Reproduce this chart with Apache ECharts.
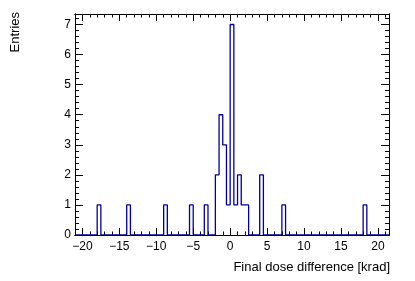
<!DOCTYPE html>
<html><head><meta charset="utf-8">
<script src="https://cdn.jsdelivr.net/npm/echarts@6/dist/echarts.min.js"></script>
<style>html,body{margin:0;padding:0;background:#fff}#c{width:415px;height:281px}</style>
</head><body><div id="c"></div>
<script>
// Histogram: bin width 0.5, range [-21, 21.5]
var xMin = -21, xMax = 21.5, binWidth = 0.5;
var yMin = 0, yMax = 7.35;
// lower edges of non-empty bins and their entries
var binLowEdges = [-18, -14, -9, -5.5, -3.5, -2, -1.5, -1, -0.5, 0, 0.5, 1, 1.5, 2, 4, 7, 18];
var binCounts   = [1,   1,   1,  1,    1,    2,  4,    3,  1,    7, 1,   2, 1,   1, 2, 1, 1];
var xTickLabels = [-20, -15, -10, -5, 0, 5, 10, 15, 20];
var yTickLabels = [0, 1, 2, 3, 4, 5, 6, 7];
var xTitle = 'Final dose difference [krad]';
var yTitle = 'Entries';

var nBins = Math.round((xMax - xMin) / binWidth);
var counts = [];
for (var i = 0; i < nBins; i++) counts.push(0);
binLowEdges.forEach(function (e, k) {
  counts[Math.round((e - xMin) / binWidth)] = binCounts[k];
});
var stepPts = [];
for (var i = 0; i < nBins; i++) {
  var lo = xMin + i * binWidth, hi = lo + binWidth;
  stepPts.push([lo, counts[i]]);
  stepPts.push([hi, counts[i]]);
}
var xMinor = [], yMinor = [];
for (var v = Math.ceil(xMin); v <= xMax; v++) xMinor.push(v);
for (var j = 0; j <= Math.floor(yMax / 0.2 + 1e-9); j++) yMinor.push(+(j * 0.2).toFixed(2));

var font = 'Liberation Sans, Arial, Helvetica, sans-serif';
function xAx(pos, ticks, len, labels) {
  return {
    type: 'value', position: pos, min: xMin, max: xMax,
    axisLine: { show: true, onZero: false, lineStyle: { color: '#000', width: 1 } },
    axisTick: { show: true, inside: true, length: len, customValues: ticks, lineStyle: { color: '#000', width: 1 } },
    axisLabel: labels ? { show: true, customValues: ticks, margin: 6, color: '#000', fontSize: 12, fontFamily: font,
      formatter: function (v) { return v < 0 ? '\u2212' + (-v) : '' + v; } } : { show: false },
    splitLine: { show: false }
  };
}
function yAx(pos, ticks, len, labels) {
  return {
    type: 'value', position: pos, min: yMin, max: yMax,
    axisLine: { show: true, onZero: false, lineStyle: { color: '#000', width: 1 } },
    axisTick: { show: true, inside: true, length: len, customValues: ticks, lineStyle: { color: '#000', width: 1 } },
    axisLabel: labels ? { show: true, customValues: ticks, margin: 4, color: '#000', fontSize: 12, fontFamily: font } : { show: false },
    splitLine: { show: false }
  };
}
var chart = echarts.init(document.getElementById('c'), null, { renderer: 'canvas' });
chart.setOption({
  animation: false,
  backgroundColor: '#fff',
  grid: { left: 75, right: 26, top: 14, bottom: 46, show: false },
  xAxis: [
    xAx('bottom', xTickLabels, 7, true),
    xAx('bottom', xMinor, 3.5, false),
    xAx('top', xTickLabels, 7, false),
    xAx('top', xMinor, 3.5, false)
  ],
  yAxis: [
    yAx('left', yTickLabels, 8, true),
    yAx('left', yMinor, 4, false),
    yAx('right', yTickLabels, 8, false),
    yAx('right', yMinor, 4, false)
  ],
  series: [{
    type: 'line', xAxisIndex: 0, yAxisIndex: 0, data: stepPts,
    showSymbol: false, symbol: 'none', z: 5,
    lineStyle: { color: '#000099', width: 1.3 }
  }],
  graphic: [
    { type: 'text', x: 390, y: 267, style: { text: xTitle, align: 'right', verticalAlign: 'middle', fontSize: 13, fontFamily: font, fill: '#000' } },
    { type: 'text', x: 15, y: 12, rotation: Math.PI / 2, style: { text: yTitle, align: 'right', verticalAlign: 'middle', fontSize: 13, fontFamily: font, fill: '#000' } }
  ]
});
</script></body></html>
